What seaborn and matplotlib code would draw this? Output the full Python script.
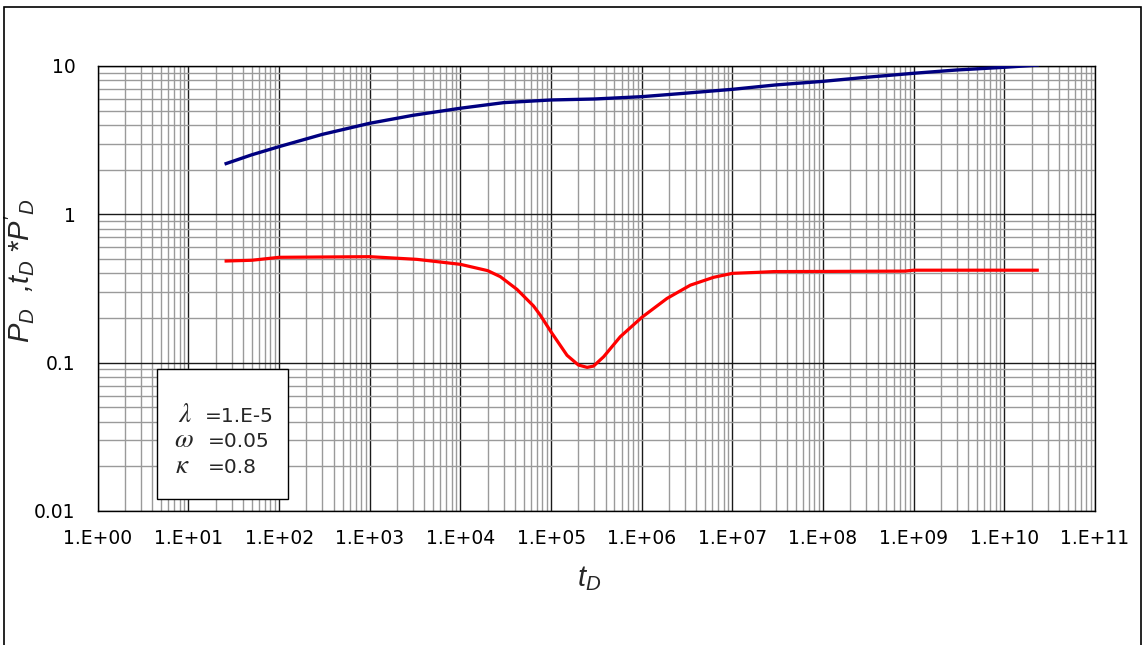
import matplotlib
matplotlib.use("Agg")
import matplotlib.pyplot as plt
import numpy as np
import pandas as pd
import seaborn as sns
from matplotlib.patches import Rectangle
from matplotlib.ticker import FixedLocator, FixedFormatter, LogLocator, NullFormatter

# Dimensionless pressure P_D versus dimensionless time t_D
t_pressure = [25, 50, 100, 300, 1e3, 3e3, 1e4, 3e4, 1e5, 3e5, 1e6, 3e6,
              1e7, 3e7, 1e8, 3e8, 1e9, 3e9, 1e10, 2.4e10]
p_pressure = [2.18, 2.52, 2.86, 3.46, 4.11, 4.65, 5.19, 5.66, 5.90, 5.99, 6.21, 6.55,
              6.96, 7.45, 7.88, 8.39, 8.93, 9.40, 9.80, 10.15]

# Pressure derivative t_D * P_D'
t_derivative = [25, 50, 100, 1e3, 3.3e3, 1e4, 2e4, 2.75e4, 4.2e4, 6.4e4, 7.6e4, 1e5,
                1.5e5, 2e5, 2.5e5, 2.94e5, 3.8e5, 5.8e5, 1e6, 1.9e6, 3.44e6, 6.2e6,
                1e7, 1.87e7, 2.86e7, 1e8, 8e8, 1e9, 1e10, 2.4e10]
p_derivative = [0.484, 0.49, 0.513, 0.518, 0.497, 0.46, 0.417, 0.38, 0.312, 0.241,
                0.209, 0.161, 0.112, 0.0964, 0.0929, 0.0948, 0.1096, 0.1496, 0.2018,
                0.271, 0.333, 0.376, 0.40, 0.406, 0.411, 0.412, 0.414, 0.42, 0.42, 0.42]

x_ticks = [1e0, 1e1, 1e2, 1e3, 1e4, 1e5, 1e6, 1e7, 1e8, 1e9, 1e10, 1e11]
x_tick_labels = ["1.E+00", "1.E+01", "1.E+02", "1.E+03", "1.E+04", "1.E+05",
                 "1.E+06", "1.E+07", "1.E+08", "1.E+09", "1.E+10", "1.E+11"]
y_ticks = [0.01, 0.1, 1, 10]
y_tick_labels = ["0.01", "0.1", "1", "10"]

param_symbols = [r"$\lambda$", r"$\omega$", r"$\kappa$"]
param_values = ["=1.E-5", "=0.05", "=0.8"]

sns.set_style("white")
plt.rcParams["font.family"] = ["DejaVu Sans"]
plt.rcParams["mathtext.fontset"] = "custom"
plt.rcParams["mathtext.rm"] = "Liberation Sans"
plt.rcParams["mathtext.it"] = "Liberation Sans:italic"
plt.rcParams["mathtext.bf"] = "Liberation Sans:bold"

fig = plt.figure(figsize=(11.43, 6.45), dpi=100)
fig.patch.set_facecolor("white")
ax = fig.add_axes([0.0856, 0.2078, 0.8724, 0.6899])
ax.set_xscale("log")
ax.set_yscale("log")

df_p = pd.DataFrame({"t": t_pressure, "value": p_pressure})
df_d = pd.DataFrame({"t": t_derivative, "value": p_derivative})
sns.lineplot(data=df_p, x="t", y="value", ax=ax, color="#000080", lw=2.4,
             solid_capstyle="butt", zorder=4)
sns.lineplot(data=df_d, x="t", y="value", ax=ax, color="#ff0000", lw=2.3,
             solid_capstyle="butt", zorder=4)

ax.set_xlim(1, 1e11)
ax.set_ylim(0.01, 10)

ax.xaxis.set_major_locator(FixedLocator(x_ticks))
ax.xaxis.set_major_formatter(FixedFormatter(x_tick_labels))
ax.yaxis.set_major_locator(FixedLocator(y_ticks))
ax.yaxis.set_major_formatter(FixedFormatter(y_tick_labels))
for axis in (ax.xaxis, ax.yaxis):
    axis.set_minor_locator(LogLocator(base=10, subs=range(2, 10), numticks=100))
    axis.set_minor_formatter(NullFormatter())

ax.tick_params(which="major", direction="out", length=5, width=1, color="black",
               labelsize=13.5, labelcolor="black")
ax.tick_params(axis="x", which="major", pad=8)
ax.tick_params(axis="y", which="major", pad=11)
ax.tick_params(which="minor", length=0)

ax.set_axisbelow(True)
ax.grid(which="minor", color="#9a9a9a", lw=1.0)
ax.grid(which="major", color="#1a1a1a", lw=1.0)
for s in ax.spines.values():
    s.set_color("black")
    s.set_linewidth(1.0)

ax.set_xlabel(r"$t_D$", fontsize=21, family="Liberation Sans", style="italic")
ax.xaxis.set_label_coords(0.4926, -0.12)
ax.set_ylabel(r"$P_D$  ,$t_D$ *$P'_D$", fontsize=21, family="Liberation Sans",
              style="italic")
ax.yaxis.set_label_coords(-0.062, 0.54)

# Parameter box
ax.add_patch(Rectangle((0.0591, 0.0263), 0.1320, 0.2921, transform=ax.transAxes,
                       facecolor="white", edgecolor="black", lw=1.0, zorder=5))
sym_y = [0.200, 0.1438, 0.086]
sym_x = [0.0805, 0.0765, 0.0775]
val_x = [0.1075, 0.1105, 0.1105]
for s, v, y, xs, xv in zip(param_symbols, param_values, sym_y, sym_x, val_x):
    ax.text(xs, y, s, transform=ax.transAxes, fontsize=19.5, math_fontfamily="stix",
            va="baseline", ha="left", zorder=6)
    ax.text(xv, y, v, transform=ax.transAxes, fontsize=14.5, va="baseline",
            ha="left", zorder=6)

# Chart frame
fig.add_artist(Rectangle((4.3 / 1143, -0.02), (1140.7 - 4.3) / 1143, 1 - 7.3 / 645 + 0.02,
                         transform=fig.transFigure, fill=False, edgecolor="black",
                         lw=1.2))

fig.savefig("out.png", dpi=100)
